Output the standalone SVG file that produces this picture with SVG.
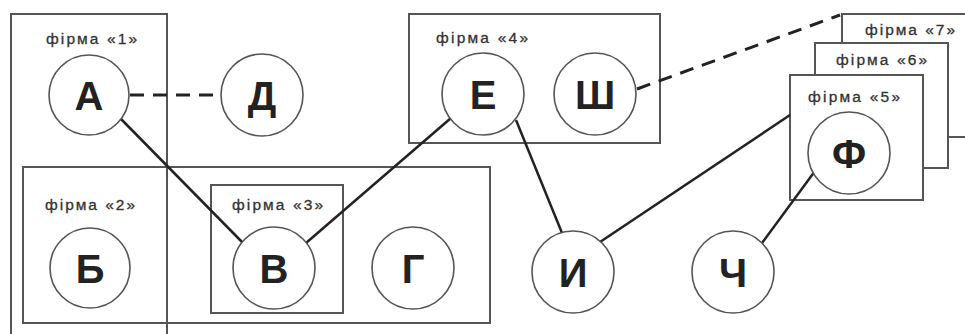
<svg xmlns="http://www.w3.org/2000/svg" width="965" height="334" viewBox="0 0 965 334">
<style>
.box{fill:none;stroke:#555;stroke-width:2}
.boxw{fill:#fff;stroke:#555;stroke-width:2}
.c{fill:#fff;stroke:#555;stroke-width:1.6}
.t{font-family:"Liberation Sans",Arial,sans-serif;font-weight:bold;font-size:40px;fill:#222;text-anchor:middle}
.lb{font-family:"Liberation Sans",Arial,sans-serif;font-size:15.5px;fill:#333;stroke:#333;stroke-width:0.3}
.ln{stroke:#222;stroke-width:2.5;fill:none}
.dl{stroke:#222;stroke-width:3;fill:none;stroke-dasharray:14 9}
</style>
<rect width="965" height="334" fill="#fff"/>
<g id="firm1"><path class="box" d="M11 340 V14 H167 V340"/><text class="lb" x="46" y="44" textLength="91" lengthAdjust="spacing">фірма «1»</text></g>
<g id="firm2"><rect class="box" x="23" y="167" width="467" height="156"/><text class="lb" x="45" y="210" textLength="90" lengthAdjust="spacing">фірма «2»</text></g>
<g id="firm3"><rect class="box" x="211" y="185" width="132" height="128"/><text class="lb" x="232" y="210" textLength="91" lengthAdjust="spacing">фірма «3»</text></g>
<g id="firm4"><rect class="box" x="409" y="14" width="251" height="129"/><text class="lb" x="436" y="43" textLength="92" lengthAdjust="spacing">фірма «4»</text></g>
<g id="firm7"><rect class="boxw" x="842" y="14" width="140" height="123"/><text class="lb" x="865" y="35" textLength="90" lengthAdjust="spacing">фірма «7»</text></g>
<g id="firm6"><rect class="boxw" x="815" y="43" width="133" height="125"/><text class="lb" x="836" y="65" textLength="91" lengthAdjust="spacing">фірма «6»</text></g>
<g id="firm5"><rect class="boxw" x="790" y="75" width="133" height="125"/><text class="lb" x="808" y="102" textLength="92" lengthAdjust="spacing">фірма «5»</text></g>
<g id="connectors">
<line class="dl" x1="130" y1="95" x2="221" y2="95"/>
<line class="dl" x1="637" y1="89" x2="840" y2="15"/>
<line class="ln" x1="121" y1="119" x2="243" y2="243"/>
<line class="ln" x1="451" y1="118" x2="306" y2="243"/>
<line class="ln" x1="516" y1="120" x2="562" y2="233"/>
<line class="ln" x1="600" y1="242" x2="790" y2="115"/>
<line class="ln" x1="762" y1="243" x2="815" y2="171"/>
</g>
<g id="A"><circle class="c" cx="89" cy="95" r="40"/><text class="t" x="89" y="110">А</text></g>
<g id="D"><circle class="c" cx="262" cy="95" r="41"/><text class="t" x="262" y="110">Д</text></g>
<g id="B"><circle class="c" cx="90" cy="268" r="40"/><text class="t" x="90" y="283">Б</text></g>
<g id="V"><circle class="c" cx="274" cy="268" r="41"/><text class="t" x="274" y="283">В</text></g>
<g id="G"><circle class="c" cx="413" cy="268" r="41"/><text class="t" x="413" y="283">Г</text></g>
<g id="E"><circle class="c" cx="483" cy="94" r="41"/><text class="t" x="483" y="109">Е</text></g>
<g id="Sh"><circle class="c" cx="595" cy="94" r="41"/><text class="t" x="595" y="109">Ш</text></g>
<g id="F"><circle class="c" cx="849" cy="153" r="41"/><text class="t" x="849" y="168">Ф</text></g>
<g id="I"><circle class="c" cx="573" cy="272" r="41"/><text class="t" x="573" y="287">И</text></g>
<g id="Ch"><circle class="c" cx="733" cy="272" r="41"/><text class="t" x="733" y="287">Ч</text></g>
</svg>
